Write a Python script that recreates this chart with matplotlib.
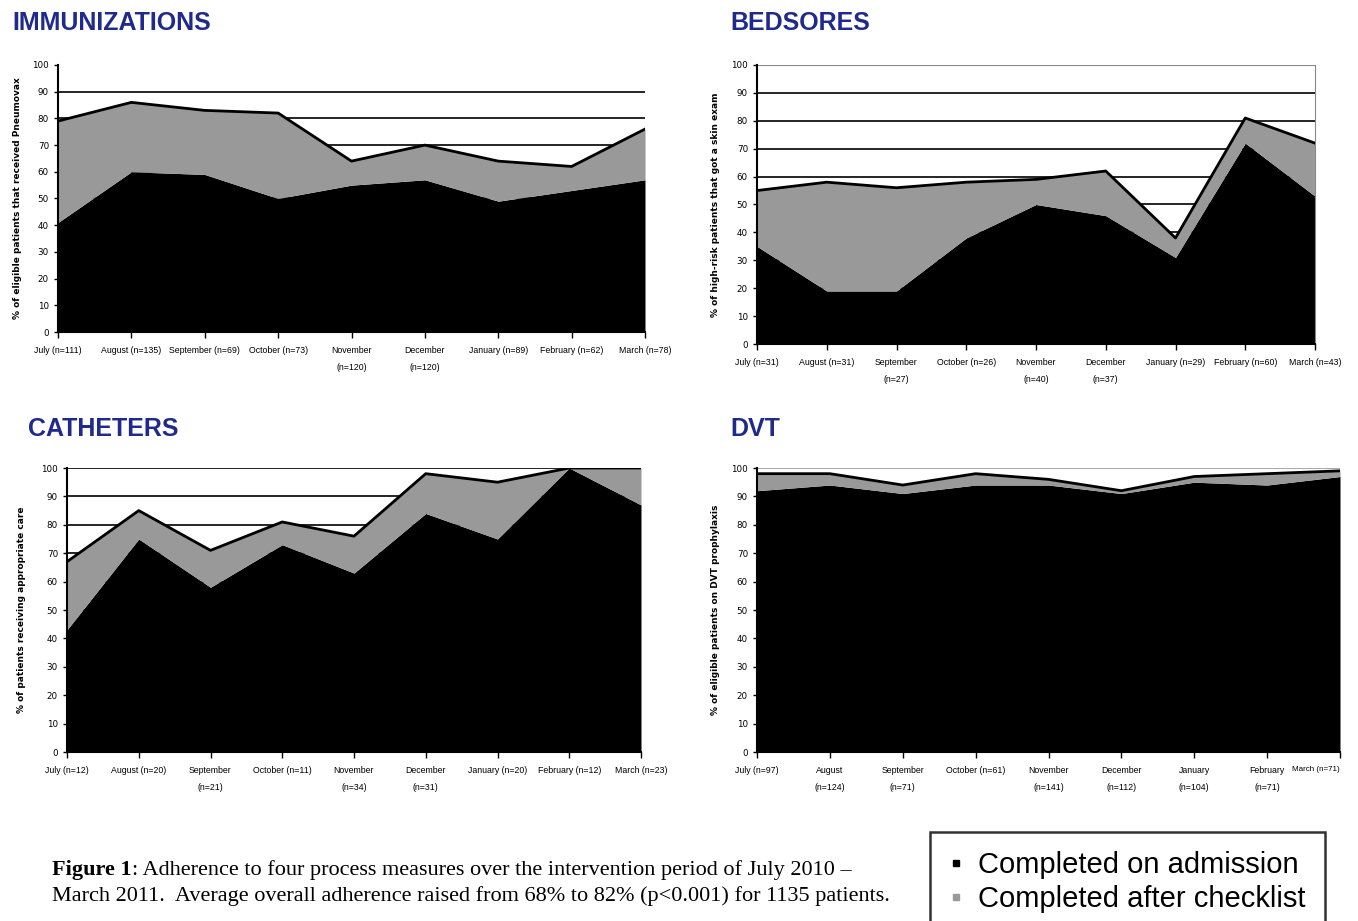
import matplotlib
matplotlib.use('Agg')
import matplotlib.pyplot as plt
from matplotlib.lines import Line2D
import numpy as np

# data (percent adherence)
months = ['July', 'August', 'September', 'October', 'November',
          'December', 'January', 'February', 'March']

imm_n = [111, 135, 69, 73, 120, 120, 89, 62, 78]
imm_adm = [41, 60, 59, 50, 55, 57, 49, 53, 57]
imm_tot = [79, 86, 83, 82, 64, 70, 64, 62, 76]

bed_n = [31, 31, 27, 26, 40, 37, 29, 60, 43]
bed_adm = [35, 19, 19, 38, 50, 46, 31, 72, 53]
bed_tot = [55, 58, 56, 58, 59, 62, 38, 81, 72]

cat_n = [12, 20, 21, 11, 34, 31, 20, 12, 23]
cat_adm = [43, 75, 58, 73, 63, 84, 75, 100, 87]
cat_tot = [67, 85, 71, 81, 76, 98, 95, 100, 100]

dvt_n = [97, 124, 71, 61, 141, 112, 104, 71, 71]
dvt_adm = [92, 94, 91, 94, 94, 91, 95, 94, 97]
dvt_tot = [98, 98, 94, 98, 96, 92, 97, 98, 99]

W, H = 1358, 921
fig = plt.figure(figsize=(W / 100, H / 100), dpi=100)
SANS = ['Liberation Sans', 'DejaVu Sans']
TITLE_COLOR = '#1f2a8c'
GRAY = '#999999'


def px(l, t, r, b):
    return [l / W, 1 - b / H, (r - l) / W, (b - t) / H]


def make_labels(n, wrap):
    out = []
    for i, (m, k) in enumerate(zip(months, n)):
        sep = '\n' if i in wrap else ' '
        out.append(f'{m}{sep}(n={k})')
    return out


def panel(rect, adm, tot, labels, title, title_xy, ylabel, ylabel_x,
          grid_top=90, box=False, top_gray=False):
    ax = fig.add_axes(rect)
    x = np.arange(len(adm))
    for g in range(10, grid_top + 1, 10):
        ax.axhline(g, color='black', lw=1.2, zorder=1)
    if top_gray:
        ax.axhline(100, color='#aaaaaa', lw=1.5, zorder=1)
    ax.fill_between(x, 0, adm, color='black', lw=0, zorder=2)
    ax.fill_between(x, adm, tot, color=GRAY, lw=0, zorder=2)
    ax.plot(x, tot, color='black', lw=2, zorder=3)
    ax.set_xlim(0, len(adm) - 1)
    ax.set_ylim(0, 100)
    ax.set_yticks(range(0, 101, 10))
    ax.set_xticks(x)
    ax.set_xticklabels(labels, fontsize=6.3, family=SANS, va='top',
                       linespacing=2.2)
    ax.tick_params(axis='y', labelsize=6.3, length=3, width=1)
    ax.tick_params(axis='x', length=4, width=1, pad=6)
    ax.spines['top'].set_visible(False)
    ax.spines['right'].set_visible(box)
    ax.spines['left'].set_linewidth(1.5)
    ax.spines['bottom'].set_linewidth(1.5)
    if box:
        ax.spines['right'].set_color('#888888')
        ax.axhline(100, color='#888888', lw=1.5, zorder=1)
    fig.text(title_xy[0] / W, 1 - title_xy[1] / H, title, fontsize=18,
             fontweight='bold', color=TITLE_COLOR, family='Liberation Sans',
             va='center', ha='left')
    fig.text(ylabel_x / W, rect[1] + rect[3] / 2, ylabel, rotation=90,
             fontsize=6.5, fontweight='bold', va='center', ha='center',
             family='DejaVu Sans')
    return ax


panel(px(58, 65, 645, 332), imm_adm, imm_tot, make_labels(imm_n, [4, 5]),
      'IMMUNIZATIONS', (12, 23),
      '% of eligible patients that received Pneumovax', 18, grid_top=90)
panel(px(757, 65, 1315, 344), bed_adm, bed_tot, make_labels(bed_n, [2, 4, 5]),
      'BEDSORES', (730, 23),
      '% of high-risk patients that got a skin exam', 716, grid_top=90, box=True)
panel(px(67, 468, 641, 752), cat_adm, cat_tot, make_labels(cat_n, [2, 4, 5]),
      'CATHETERS', (28, 429),
      '% of patients receiving appropriate care', 22, grid_top=100)
ax4 = panel(px(757, 468, 1340, 752), dvt_adm, dvt_tot,
            make_labels(dvt_n, [1, 2, 4, 5, 6, 7]),
            'DVT', (730, 429),
            '% of eligible patients on DVT prophylaxis', 716, grid_top=0,
            top_gray=True)
# last label sits at the right edge; keep it inside the figure
last = ax4.get_xticklabels()[-1]
last.set_ha('right')
last.set_fontsize(5.8)

# caption, "Figure 1" in bold then the rest right after it
cap_y1 = 1 - 870 / H
cap_y2 = 1 - 896 / H
t_bold = fig.text(52 / W, cap_y1, 'Figure 1', fontsize=16, fontweight='bold',
                  family='Liberation Serif', va='center')
fig.canvas.draw()
bb = t_bold.get_window_extent(renderer=fig.canvas.get_renderer())
fig.text(bb.x1 / W, cap_y1,
         ': Adherence to four process measures over the intervention period of July 2010 \u2013',
         fontsize=16, family='Liberation Serif', va='center')
fig.text(52 / W, cap_y2,
         'March 2011.  Average overall adherence raised from 68% to 82% (p<0.001) for 1135 patients.',
         fontsize=16, family='Liberation Serif', va='center')

# legend
handles = [Line2D([], [], marker='s', color='none', markerfacecolor='black',
                  markeredgecolor='black', markersize=5),
           Line2D([], [], marker='s', color='none', markerfacecolor=GRAY,
                  markeredgecolor=GRAY, markersize=5)]
leg = fig.legend(handles, ['Completed on admission', 'Completed after checklist'],
                 loc='upper left', bbox_to_anchor=(930 / W, 1 - 832 / H),
                 prop={'family': 'Liberation Sans', 'size': 21},
                 frameon=True, fancybox=False, handlelength=0.5,
                 handletextpad=0.5, borderpad=0.65, labelspacing=0.2,
                 borderaxespad=0)
leg.get_frame().set_edgecolor('black')
leg.get_frame().set_linewidth(1.8)

fig.savefig('out.png', dpi=100)
